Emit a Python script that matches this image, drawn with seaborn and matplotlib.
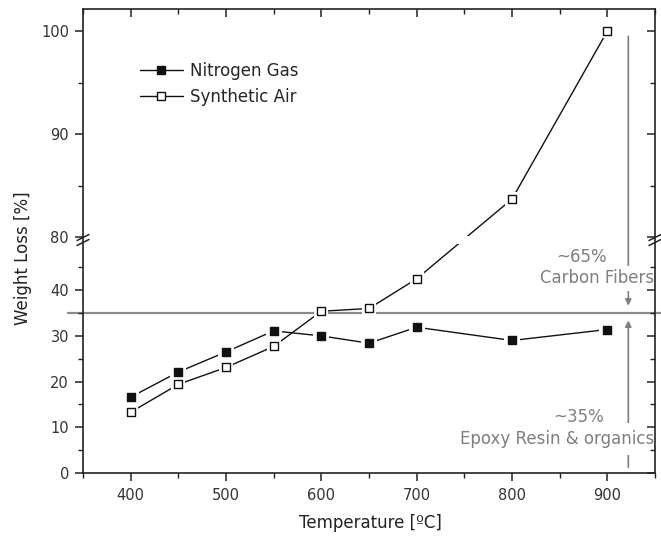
import numpy as np
import pandas as pd
import matplotlib
matplotlib.use('Agg')
import matplotlib.pyplot as plt
from matplotlib.lines import Line2D
from matplotlib.patches import Rectangle
from matplotlib.ticker import MultipleLocator, FixedLocator
import seaborn as sns

# ---- data ----
temperature = [400, 450, 500, 550, 600, 650, 700, 800, 900]
nitrogen_gas = [16.6, 22.1, 26.5, 31.1, 30.0, 28.4, 31.9, 29.0, 31.4]
synthetic_air = [13.3, 19.4, 23.1, 27.7, 35.4, 36.0, 42.5, 83.7, 100.0]
series_names = ['Nitrogen Gas', 'Synthetic Air']
threshold = 35
x_ticks = [400, 500, 600, 700, 800, 900]
y_ticks = [0, 10, 20, 30, 40, 80, 90, 100]
y_minor_ticks = [5, 15, 25, 35, 45, 85, 95]

df = pd.DataFrame({
    'Temperature': temperature * 2,
    'Weight Loss': nitrogen_gas + synthetic_air,
    'Atmosphere': [series_names[0]] * len(temperature) + [series_names[1]] * len(temperature),
})

sns.set_theme(style='ticks')
plt.rcParams['font.family'] = ['DejaVu Sans']

W_PX, H_PX = 661, 537
fig = plt.figure(figsize=(W_PX / 100, H_PX / 100), dpi=100)
left_px, right_px, top_px, bot_px, brk_px = 83, 655, 9, 473, 240
ax = fig.add_axes([left_px / W_PX, 1 - bot_px / H_PX, (right_px - left_px) / W_PX,
                   (bot_px - top_px) / H_PX])
ax.patch.set_visible(False)

# broken y axis: lower part 0..B1, upper part B2.. with a steeper scale
B1, B2, R, EPS = 50.9, 79.7, 2.254, 1e-3
G = (B2 - B1) * EPS


def fwd(y):
    y = np.asarray(y, dtype=float)
    return np.where(y <= B1, y,
                    np.where(y < B2, B1 + (y - B1) * EPS, B1 + G + (y - B2) * R))


def inv(u):
    u = np.asarray(u, dtype=float)
    return np.where(u <= B1, u,
                    np.where(u < B1 + G, B1 + (u - B1) / EPS, B2 + (u - B1 - G) / R))


line_col = '#111111'
styles = {series_names[0]: dict(face=line_col, ms=6.2),
          series_names[1]: dict(face='white', ms=5.6)}

for name in series_names:
    sub = df[df['Atmosphere'] == name]
    sns.lineplot(data=sub, x='Temperature', y='Weight Loss', ax=ax, color=line_col,
                 linewidth=1.0, errorbar=None, legend=False, zorder=2)
    sns.scatterplot(data=sub, x='Temperature', y='Weight Loss', ax=ax, marker='s',
                    s=(styles[name]['ms'] + 5) ** 2, color='white', linewidth=0,
                    legend=False, zorder=3)
    sns.scatterplot(data=sub, x='Temperature', y='Weight Loss', ax=ax, marker='s',
                    s=styles[name]['ms'] ** 2, facecolor=styles[name]['face'],
                    edgecolor=line_col, linewidth=1.0, legend=False, zorder=4)

ax.set_yscale('function', functions=(fwd, inv))
ax.set_xlim(350, 950)
ax.set_ylim(0, 102.15)
ax.set_xlabel('')
ax.set_ylabel('')

ax.set_xticks(x_ticks)
ax.xaxis.set_minor_locator(MultipleLocator(50))
ax.set_yticks(y_ticks)
ax.yaxis.set_minor_locator(FixedLocator(y_minor_ticks))

# white gap across the axis break
brk_frac = (bot_px - brk_px) / (bot_px - top_px)
ax.add_patch(Rectangle((0, brk_frac - 0.008), 1, 0.016, transform=ax.transAxes,
                       facecolor='white', edgecolor='none', zorder=2.5))

for sp in ax.spines.values():
    sp.set_color('#222222')
    sp.set_linewidth(1.2)
    sp.set_zorder(10)
ax.xaxis.set_zorder(10)
ax.yaxis.set_zorder(10)

tick_col = '#333333'
ax.tick_params(axis='x', which='both', bottom=True, top=True, labelsize=10.5,
               labelcolor=tick_col, pad=5, direction='out')
ax.tick_params(axis='y', which='both', left=True, right=True, labelsize=10.5,
               labelcolor=tick_col, pad=4, direction='out')
ax.tick_params(which='major', length=6, width=1.1, color='#222222')
ax.tick_params(which='minor', length=3.5, width=1.0, color='#222222')
# top and right ticks point inward
for t in ax.yaxis.get_major_ticks() + ax.yaxis.get_minor_ticks():
    t.tick2line.set_marker(0)
for t in ax.xaxis.get_major_ticks() + ax.xaxis.get_minor_ticks():
    t.tick2line.set_marker(3)

# threshold line spanning slightly beyond the axes
ax.axhline(threshold, xmin=-0.026, xmax=1.02, color='#8a8a8a', lw=1.6,
           clip_on=False, zorder=1)

# legend
handles = [Line2D([], [], color=line_col, lw=1.0, marker='s', ms=styles[n]['ms'],
                  markerfacecolor=styles[n]['face'], markeredgecolor=line_col)
           for n in series_names]
ax.legend(handles, series_names, loc='upper left', bbox_to_anchor=(0.073, 0.918),
          frameon=False, fontsize=12, handlelength=2.6, handletextpad=0.4,
          labelspacing=0.45, numpoints=1)

# arrows and annotations
gray = '#7f7f7f'
arrow_x = 922
ax.annotate('', xy=(arrow_x, threshold + 1.6), xytext=(arrow_x, 99.5),
            arrowprops=dict(arrowstyle='-|>', color=gray, lw=1.2,
                            mutation_scale=9, shrinkA=0, shrinkB=0), zorder=5)
ax.annotate('', xy=(arrow_x, threshold - 1.6), xytext=(arrow_x, 1.2),
            arrowprops=dict(arrowstyle='-|>', color=gray, lw=1.2,
                            mutation_scale=9, shrinkA=0, shrinkB=0), zorder=5)
ax.text(899, 47.2, '~65%', ha='right', va='center', color=gray, fontsize=12, zorder=6)
ax.text(949, 42.6, 'Carbon Fibers', ha='right', va='center', color=gray, fontsize=12,
        bbox=dict(facecolor='white', edgecolor='none', pad=2.5), zorder=6)
ax.text(897, 12.2, '~35%', ha='right', va='center', color=gray, fontsize=12, zorder=6)
ax.text(949, 7.4, 'Epoxy Resin & organics', ha='right', va='center', color=gray,
        fontsize=12, bbox=dict(facecolor='white', edgecolor='none', pad=5), zorder=6)

# axis labels
fig.text(23 / W_PX, 1 - 258 / H_PX, 'Weight Loss [%]', rotation=90, ha='center',
         va='center', fontsize=12, color='#222222')
fig.text(370 / W_PX, 1 - 523 / H_PX, 'Temperature [ºC]', ha='center', va='center',
         fontsize=12, color='#222222')


# axis break marks
def brk(xc, yc):
    for dy in (-2.5, 2.5):
        x0, y0 = xc - 6, yc + dy + 3
        x1, y1 = xc + 6, yc + dy - 3
        fig.add_artist(Line2D([x0 / W_PX, x1 / W_PX], [1 - y0 / H_PX, 1 - y1 / H_PX],
                              color='#222222', lw=1.1))


for xc in (left_px, right_px):
    brk(xc, brk_px)

fig.savefig('out.png', dpi=100)
